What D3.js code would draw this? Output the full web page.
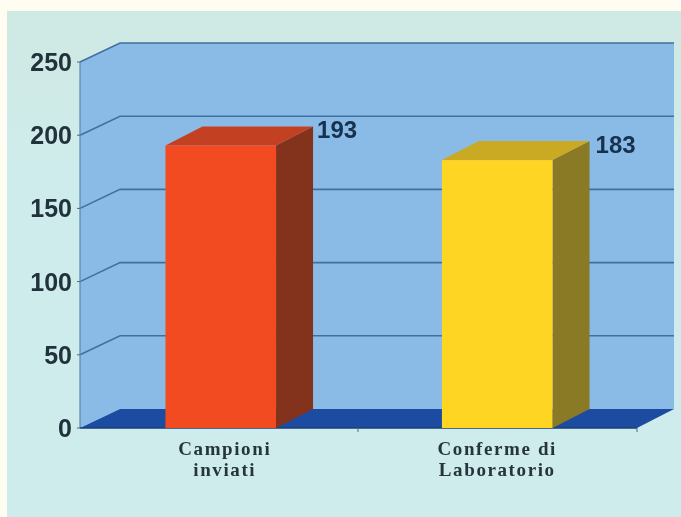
<!DOCTYPE html>
<html><head><meta charset="utf-8">
<script src="https://cdn.jsdelivr.net/npm/d3@7"></script>
<style>html,body{margin:0;padding:0;background:#fffdf1;overflow:hidden}svg{display:block}</style>
</head><body><svg id="c" width="681" height="517"></svg>
<script>
const categories = [["Campioni","inviati"],["Conferme di","Laboratorio"]];
const values = [193,183];
const yTicks = [0,50,100,150,200,250];
const frontColors = ["#f24c22","#fdd523"];
const topColors = ["#c43f22","#c9aa22"];
const sideColors = ["#83301a","#8a7a25"];

const svg = d3.select("#c");
const defs = svg.append("defs");
defs.append("filter").attr("id","soft").attr("x","-5%").attr("y","-5%").attr("width","110%").attr("height","110%")
  .append("feGaussianBlur").attr("stdDeviation",0.7);
defs.append("filter").attr("id","softer").attr("x","-5%").attr("y","-5%").attr("width","110%").attr("height","110%")
  .append("feGaussianBlur").attr("stdDeviation",0.7);
const g0 = defs.append("linearGradient").attr("id","panelG").attr("x1",0).attr("x2",0).attr("y1",0).attr("y2",1);
g0.append("stop").attr("offset",0).attr("stop-color","#cfe9e3");
g0.append("stop").attr("offset",0.12).attr("stop-color","#cfeae6");
g0.append("stop").attr("offset",0.3).attr("stop-color","#cfecec");

const root = svg.append("g").attr("filter","url(#soft)");
root.append("rect").attr("x",7).attr("y",11).attr("width",680).attr("height",512).attr("fill","url(#panelG)");

const y = d3.scaleLinear().domain([0,250]).range([428,62]);
const x = d3.scaleBand().domain(categories.map(d=>d.join(" "))).range([82.5,635.5]).paddingInner(0.6).paddingOuter(0.3);
const dx = 37, dy = -19, wx = 40;
const floorL = 80, floorR = 637;

root.append("path").attr("fill","#8abbe6")
  .attr("d",d3.line()([[floorL,y(0)],[floorL,y(250)],[floorL+wx,y(250)+dy],[floorR+37,y(250)+dy],[floorR+37,y(0)+dy],[floorL+wx,y(0)+dy]])+"Z");
root.append("path").attr("fill","#1c4ca2")
  .attr("d",d3.line()([[floorL,y(0)],[floorL+wx,y(0)+dy],[floorR+37,y(0)+dy],[floorR,y(0)]])+"Z");
const gridLine = d3.line();
root.selectAll(".grid").data(yTicks.slice(1)).join("path").attr("class","grid")
  .attr("fill","none").attr("stroke","#40709f").attr("stroke-width",1.6)
  .attr("d",d=>gridLine([[floorL,y(d)],[floorL+wx,y(d)+dy],[floorR+37,y(d)+dy]]));
root.append("line").attr("x1",floorL).attr("x2",floorL).attr("y1",y(250)).attr("y2",y(0)).attr("stroke","#5b87ac").attr("stroke-width",1.2);
root.append("line").attr("x1",floorL).attr("x2",floorR).attr("y1",y(0)).attr("y2",y(0)).attr("stroke","#1d3f70").attr("stroke-width",1.4);
root.selectAll(".yt").data(yTicks).join("line").attr("class","yt")
  .attr("x1",floorL-3).attr("x2",floorL).attr("y1",d=>y(d)).attr("y2",d=>y(d)).attr("stroke","#4a6a80").attr("stroke-width",1);
root.selectAll(".xt").data([358,637]).join("line").attr("class","xt")
  .attr("x1",d=>d).attr("x2",d=>d).attr("y1",y(0)).attr("y2",y(0)+4).attr("stroke","#4a6a80").attr("stroke-width",1);

const keys = x.domain();
const bars = root.selectAll(".bar").data(values).join("g").attr("class","bar");
bars.append("path").attr("fill",(d,i)=>sideColors[i]).attr("d",(d,i)=>{
  const r=x(keys[i])+x.bandwidth();
  return d3.line()([[r,y(d)],[r+dx,y(d)+dy],[r+dx,y(0)+dy],[r,y(0)]])+"Z";});
bars.append("path").attr("fill",(d,i)=>topColors[i]).attr("d",(d,i)=>{
  const l=x(keys[i]),r=l+x.bandwidth();
  return d3.line()([[l,y(d)],[l+dx,y(d)+dy],[r+dx,y(d)+dy],[r,y(d)]])+"Z";});
bars.append("rect").attr("fill",(d,i)=>frontColors[i]).attr("x",(d,i)=>x(keys[i])).attr("y",d=>y(d))
  .attr("width",x.bandwidth()).attr("height",d=>y(0)-y(d));

const labels = svg.append("g").attr("filter","url(#softer)");
labels.selectAll(".yl").data(yTicks).join("text").attr("class","yl")
  .attr("x",72).attr("y",d=>y(d)+9).attr("text-anchor","end")
  .attr("font-family","'Liberation Sans',Arial,sans-serif").attr("font-weight","bold").attr("font-size",25)
  .attr("fill","#22323c").text(d=>d);
labels.selectAll(".vl").data(values).join("text").attr("class","vl")
  .attr("x",(d,i)=>x(keys[i])+x.bandwidth()+dx+(i==0?4:6)).attr("y",d=>y(d)+dy+12)
  .attr("font-family","'Liberation Sans',Arial,sans-serif").attr("font-weight","bold").attr("font-size",24)
  .attr("fill","#16304f").text(d=>d);
const cl = labels.selectAll(".cl").data(categories).join("text").attr("class","cl")
  .attr("text-anchor","middle").attr("font-family","'Liberation Serif',serif").attr("font-weight","bold")
  .attr("font-size",19).attr("letter-spacing",1.6).attr("fill","#27353c");
cl.selectAll("tspan").data((d,i)=>d.map((t,j)=>({t,j,i}))).join("tspan")
  .attr("x",d=>x(keys[d.i])+x.bandwidth()/2+(d.i==0?4:0)).attr("y",d=>455+d.j*21).text(d=>d.t);
</script></body></html>
